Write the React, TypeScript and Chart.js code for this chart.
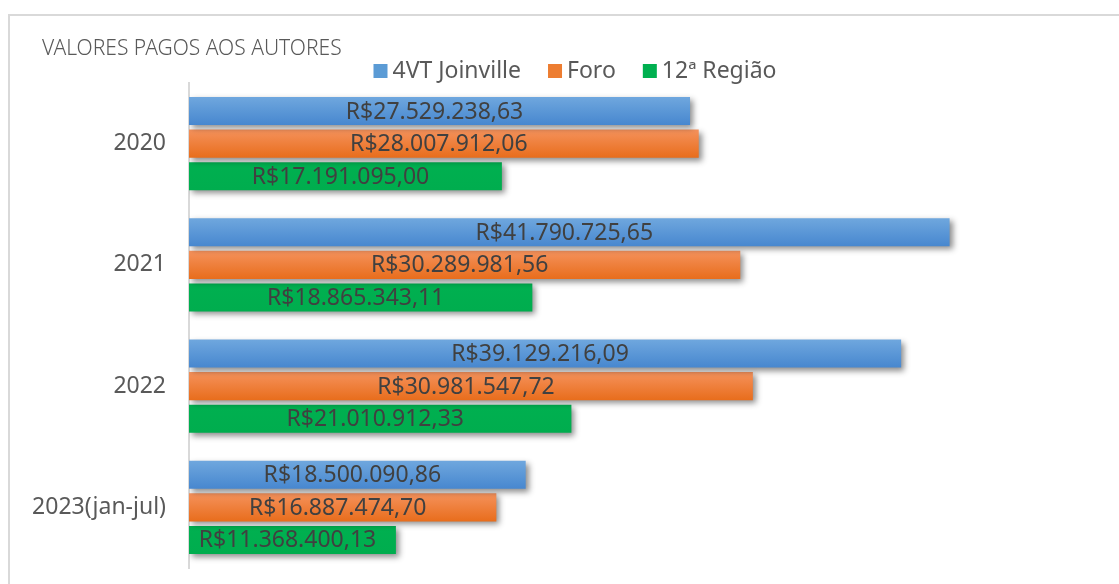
import React, { useEffect, useRef } from "react";
import { Chart, registerables } from "chart.js";

Chart.register(...registerables);

const categories = ["2020", "2021", "2022", "2023(jan-jul)"];
const seriesNames = ["4VT Joinville", "Foro", "12ª Região"];
const joinville = [27529238.63, 41790725.65, 39129216.09, 18500090.86];
const foro = [28007912.06, 30289981.56, 30981547.72, 16887474.7];
const regiao12 = [17191095.0, 18865343.11, 21010912.33, 11368400.13];
const titleText = "VALORES PAGOS AOS AUTORES";

const FONT = "'Noto Sans', sans-serif";
const CAT_PCT = 0.806;
const BAR_PCT = 0.86;

const gradStops: [string, string][] = [
  ["#6fa7de", "#4787cf"],
  ["#f5925c", "#e86d1c"],
  ["#00b050", "#00ad4e"],
];
const legendColors = ["#5b9bd5", "#ed7d31", "#00b050"];

function fmt(v: number) {
  const [i, d] = v.toFixed(2).split(".");
  return "R$" + i.replace(/\B(?=(\d{3})+(?!\d))/g, ".") + "," + d;
}

function makeBg(dsIndex: number) {
  return (ctx: any) => {
    const chart = ctx.chart;
    const y = chart.scales?.y;
    if (!y || ctx.dataIndex === undefined || ctx.type !== "data") return gradStops[dsIndex][0];
    const center = y.getPixelForValue(ctx.dataIndex);
    const band = Math.abs(y.getPixelForValue(1) - y.getPixelForValue(0));
    if (!Number.isFinite(center) || !Number.isFinite(band) || band === 0) return gradStops[dsIndex][0];
    const slot = (band * CAT_PCT) / 3;
    const c = center + (dsIndex - 1) * slot;
    const h = slot * BAR_PCT;
    const g = chart.ctx.createLinearGradient(0, c - h / 2, 0, c + h / 2);
    g.addColorStop(0, gradStops[dsIndex][0]);
    g.addColorStop(1, gradStops[dsIndex][1]);
    return g;
  };
}

const shadowPlugin = {
  id: "shadowPlugin",
  beforeDatasetsDraw(chart: any) {
    const c = chart.ctx;
    c.save();
    c.shadowColor = "rgba(0,0,0,0.45)";
    c.shadowBlur = 6;
    c.shadowOffsetX = 3;
    c.shadowOffsetY = 3;
  },
  afterDatasetsDraw(chart: any) {
    chart.ctx.restore();
  },
};

const labelPlugin = {
  id: "labelPlugin",
  afterDraw(chart: any) {
    const c = chart.ctx;
    c.save();
    c.font = `23px ${FONT}`;
    c.fillStyle = "#404040";
    c.textAlign = "center";
    c.textBaseline = "middle";
    chart.data.datasets.forEach((ds: any, di: number) => {
      const meta = chart.getDatasetMeta(di);
      meta.data.forEach((el: any, i: number) => {
        const cx = (el.x + el.base) / 2 - 5;
        c.fillText(fmt(ds.data[i]), cx, el.y + 1);
      });
    });
    c.textAlign = "left";
    c.textBaseline = "alphabetic";
    c.fillStyle = "#595959";
    c.font = `300 21px ${FONT}`;
    c.fillText(titleText, 42, 55);
    c.font = `23px ${FONT}`;
    const box = 14, gapText = 5, gapItem = 27;
    const widths = seriesNames.map((n) => c.measureText(n).width);
    const total = widths.reduce((a, w) => a + box + gapText + w, 0) + gapItem * (seriesNames.length - 1);
    let x = 575 - total / 2;
    seriesNames.forEach((n, i) => {
      c.fillStyle = legendColors[i];
      c.fillRect(x, 64, box, box);
      x += box + gapText;
      c.fillStyle = "#595959";
      c.textBaseline = "middle";
      c.fillText(n, x, 71);
      x += widths[i] + gapItem;
    });
    c.restore();
  },
};

export default function App() {
  const ref = useRef<HTMLCanvasElement>(null);
  useEffect(() => {
    if (!ref.current) return;
    const data = [joinville, foro, regiao12];
    const chart = new Chart(ref.current, {
      type: "bar",
      data: {
        labels: categories,
        datasets: seriesNames.map((n, i) => ({
          label: n,
          data: data[i],
          backgroundColor: makeBg(i),
          borderWidth: 0,
          categoryPercentage: CAT_PCT,
          barPercentage: BAR_PCT,
        })),
      },
      options: {
        indexAxis: "y",
        animation: false,
        responsive: false,
        maintainAspectRatio: false,
        layout: { padding: { top: 83, left: 0, right: 20, bottom: 16 } },
        plugins: {
          legend: { display: false },
          title: { display: false },
          tooltip: { enabled: false },
        },
        scales: {
          x: { display: false, min: 0, max: 50000000 },
          y: {
            grid: { display: false },
            border: { display: true, color: "#d9d9d9", width: 2 },
            ticks: { font: { family: FONT, size: 23 }, color: "#595959", padding: 15 },
            afterFit: (s: any) => {
              s.width = 189;
              s.paddingTop = 0;
              s.paddingBottom = 0;
            },
          },
        },
      },
      plugins: [shadowPlugin, labelPlugin],
    });
    return () => chart.destroy();
  }, []);
  return (
    <div style={{ position: "fixed", left: 0, top: 0, width: 1119, height: 584, overflow: "hidden", background: "#fff" }}>
      <div
        style={{
          position: "absolute",
          left: 8,
          top: 14,
          width: 1140,
          height: 620,
          border: "2px solid #d9d9d9",
          boxSizing: "border-box",
        }}
      />
      <canvas ref={ref} width={1119} height={584} style={{ position: "absolute", left: 0, top: 0 }} />
    </div>
  );
}
